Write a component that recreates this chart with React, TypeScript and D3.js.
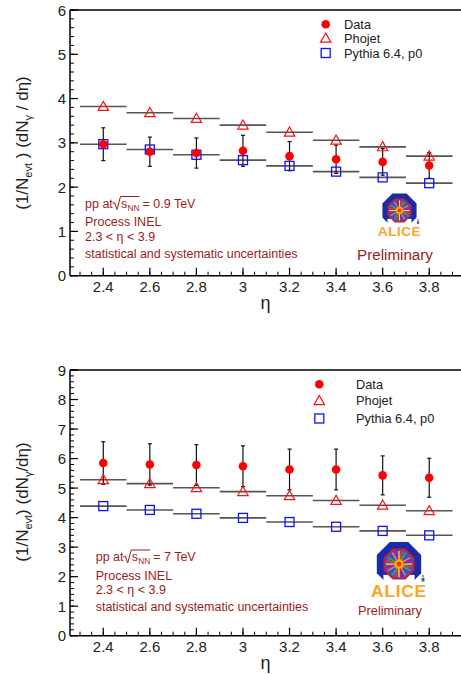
import React from 'react';
import * as d3 from 'd3';

// pseudorapidity bin centres
const etaBins = [2.4, 2.6, 2.8, 3.0, 3.2, 3.4, 3.6, 3.8];
const binHalf = 0.1;

// pp at 0.9 TeV
const data09 = [2.97, 2.80, 2.77, 2.82, 2.70, 2.63, 2.57, 2.49];
const err09 = [0.37, 0.33, 0.34, 0.35, 0.33, 0.32, 0.30, 0.29];
const phojet09 = [3.82, 3.68, 3.55, 3.40, 3.24, 3.06, 2.91, 2.70];
const pythia09 = [2.97, 2.85, 2.73, 2.61, 2.48, 2.35, 2.22, 2.09];

// pp at 7 TeV
const data7 = [5.85, 5.80, 5.78, 5.74, 5.63, 5.63, 5.43, 5.35];
const err7 = [0.72, 0.70, 0.69, 0.69, 0.69, 0.69, 0.66, 0.66];
const phojet7 = [5.28, 5.15, 5.01, 4.88, 4.74, 4.58, 4.42, 4.23];
const pythia7 = [4.39, 4.26, 4.13, 3.99, 3.85, 3.69, 3.55, 3.40];

const xTickLabels = [2.4, 2.6, 2.8, 3, 3.2, 3.4, 3.6, 3.8];
const legendLabels = ['Data', 'Phojet', 'Pythia 6.4, p0'];

const font = '"Liberation Sans", Arial, Helvetica, sans-serif';
const noteColor = '#9b1c1c';
const stepColor = '#555';

const x = d3.scaleLinear().domain([2.3, 3.9]).range([80, 452.5]);
const frameLeft = 70;
const frameRight = 470;

const Logo = ({ cx, top, w }) => {
  const s = w / 40;
  const octa = (r, cy) => {
    const pts = d3.range(8).map(i => {
      const a = Math.PI / 8 + (i * Math.PI) / 4;
      return [cx + r * Math.cos(a), cy + r * Math.sin(a)];
    });
    return 'M' + pts.map(p => p.join(',')).join('L') + 'Z';
  };
  const cy = top + 13 * s;
  const rays = d3.range(24);
  const rayColors = ['#ffde00', '#ff3b00', '#30c030', '#2050ff', '#ff9000', '#c000c0'];
  return (
    <g>
      <path d={octa(20 * s, cy)} fill="#1a2aa8" />
      <rect x={cx - 13 * s} y={cy + 9 * s} width={26 * s} height={12 * s} fill="#fff" />
      <path d={octa(14 * s, cy)} fill="#d02020" />
      <path d={octa(12.5 * s, cy)} fill="#6a3fb0" />
      <circle cx={cx} cy={cy} r={11 * s} fill="#5050c0" />
      {rays.map(i => {
        const a = (i * 2 * Math.PI) / rays.length;
        return (
          <line key={i} x1={cx} y1={cy} x2={cx + 11 * s * Math.cos(a)} y2={cy + 11 * s * Math.sin(a)}
            stroke={rayColors[i % rayColors.length]} strokeWidth={1.1 * s} />
        );
      })}
      <circle cx={cx} cy={cy} r={4 * s} fill="#ffb000" opacity={0.9} />
      <circle cx={cx} cy={cy} r={2 * s} fill="#ff3000" />
      <circle cx={cx + 20 * s} cy={cy + 10 * s} r={1.2 * s} fill="#f09020" />
      <rect x={cx + 18.8 * s} y={cy + 11.5 * s} width={2.4 * s} height={3 * s} fill="#3060d0" />
      <text x={cx} y={cy + 27 * s} textAnchor="middle" fontFamily={font} fontWeight="bold"
        fontSize={14.5 * s} fill="#ffa424" letterSpacing={0.6 * s}>ALICE</text>
    </g>
  );
};

const Panel = (props) => {
  const { yMax, yTop, yBottom, data, err, phojet, pythia, energy, cfg } = props;
  const y = d3.scaleLinear().domain([0, yMax]).range([yBottom, yTop]);
  const yMajor = d3.range(0, yMax + 0.001, 1);
  const yMinor = d3.range(0, yMax + 0.001, 0.2);
  const xMinor = d3.range(2.3, 3.9501, 0.05);

  const tri = (cx, cy) => {
    const r = 5.2;
    return `M${cx},${cy - r}L${cx + r},${cy + r * 0.75}L${cx - r},${cy + r * 0.75}Z`;
  };

  const nx = cfg.noteX;
  const x0 = nx + 28.5;
  const nb = cfg.noteY;

  return (
    <g>
      {/* frame */}
      <line x1={frameLeft} x2={frameRight} y1={yTop} y2={yTop} stroke="#000" strokeWidth={1.3} />
      <line x1={frameLeft} x2={frameLeft} y1={yTop} y2={yBottom} stroke="#000" strokeWidth={1.5} />
      <line x1={frameLeft} x2={frameRight} y1={yBottom} y2={yBottom} stroke="#000" strokeWidth={1.5} />

      {yMinor.map((v, i) => (
        <line key={'ym' + i} x1={frameLeft} x2={frameLeft + 4} y1={y(v)} y2={y(v)} stroke="#000" strokeWidth={1} />
      ))}
      {yMajor.map(v => (
        <g key={'yM' + v}>
          <line x1={frameLeft} x2={frameLeft + 8} y1={y(v)} y2={y(v)} stroke="#000" strokeWidth={1.2} />
          <text x={frameLeft - 4} y={y(v) + 5.5} textAnchor="end" fontFamily={font} fontSize={15} fill="#222">{v}</text>
        </g>
      ))}
      {xMinor.map((v, i) => (
        <line key={'xm' + i} x1={x(v)} x2={x(v)} y1={yBottom} y2={yBottom - 4} stroke="#000" strokeWidth={1} />
      ))}
      {xTickLabels.map(v => (
        <g key={'xM' + v}>
          <line x1={x(v)} x2={x(v)} y1={yBottom} y2={yBottom - 8} stroke="#000" strokeWidth={1.2} />
          <text x={x(v)} y={yBottom + 16.5} textAnchor="middle" fontFamily={font} fontSize={15} fill="#222">{v}</text>
        </g>
      ))}
      <text x={265.5} y={yBottom + 33.5} textAnchor="middle" fontFamily={font} fontSize={18} fill="#222">η</text>

      {/* y title */}
      <text transform={`translate(27.5,${cfg.titleY}) rotate(-90)`} textAnchor="middle" fontFamily={font} fontSize={17} fill="#222">
        <tspan>(1/N</tspan>
        <tspan fontSize={11} dy={4}>evt</tspan>
        <tspan dy={-4}>{cfg.spaced ? ' ) (dN' : ') (dN'}</tspan>
        <tspan fontSize={11} dy={4}>γ</tspan>
        <tspan dy={-4}>{cfg.spaced ? '  / dη)' : '/dη)'}</tspan>
      </text>

      {/* model step histograms */}
      {etaBins.map((e, i) => (
        <g key={'st' + i}>
          <line x1={x(e - binHalf)} x2={x(e + binHalf)} y1={y(phojet[i])} y2={y(phojet[i])} stroke={stepColor} strokeWidth={1.6} />
          <line x1={x(e - binHalf)} x2={x(e + binHalf)} y1={y(pythia[i])} y2={y(pythia[i])} stroke={stepColor} strokeWidth={1.6} />
        </g>
      ))}

      {/* error bars */}
      {etaBins.map((e, i) => (
        <g key={'eb' + i} stroke="#111" strokeWidth={1.2}>
          <line x1={x(e)} x2={x(e)} y1={y(data[i] - err[i])} y2={y(data[i] + err[i])} />
          <line x1={x(e) - 2} x2={x(e) + 2} y1={y(data[i] - err[i])} y2={y(data[i] - err[i])} />
          <line x1={x(e) - 2} x2={x(e) + 2} y1={y(data[i] + err[i])} y2={y(data[i] + err[i])} />
        </g>
      ))}

      {/* markers */}
      {etaBins.map((e, i) => (
        <g key={'mk' + i}>
          <path d={tri(x(e), y(phojet[i]))} fill="none" stroke="#ff1010" strokeWidth={1.2} />
          <rect x={x(e) - 4.5} y={y(pythia[i]) - 4.5} width={9} height={9} fill="none" stroke="#1010ff" strokeWidth={1.3} />
          <circle cx={x(e)} cy={y(data[i])} r={4.3} fill="#ff0000" />
        </g>
      ))}

      {/* legend */}
      {legendLabels.map((lab, i) => {
        const ly = cfg.legendY[i];
        const mx = cfg.legendMarkerX;
        return (
          <g key={'lg' + i}>
            {i === 0 && <circle cx={mx} cy={ly} r={4.3} fill="#ff0000" />}
            {i === 1 && <path d={tri(mx, ly)} fill="none" stroke="#ff1010" strokeWidth={1.2} />}
            {i === 2 && <rect x={mx - 4.5} y={ly - 4.5} width={9} height={9} fill="none" stroke="#1010ff" strokeWidth={1.3} />}
            <text x={cfg.legendTextX} y={ly + 4.5} fontFamily={font} fontSize={12.8} fill="#222">{lab}</text>
          </g>
        );
      })}

      {/* annotations */}
      <g fontFamily={font} fontSize={12.5} fill={noteColor}>
        <text x={nx} y={nb[0]}>pp at</text>
        <path d={`M${x0 - 1},${nb[0] - 4}L${x0 + 1},${nb[0] - 5}L${x0 + 3.5},${nb[0] + 2}L${x0 + 7},${nb[0] - 11}L${x0 + 26},${nb[0] - 11}`}
          fill="none" stroke={noteColor} strokeWidth={1} />
        <text x={x0 + 7.5} y={nb[0]}>s</text>
        <text x={x0 + 14} y={nb[0] + 3} fontSize={8.3}>NN</text>
        <text x={x0 + 29} y={nb[0]}>{`= ${energy} TeV`}</text>
        <text x={nx} y={nb[1]}>Process INEL</text>
        <text x={nx} y={nb[2]}>2.3 &lt; η &lt; 3.9</text>
        <text x={nx} y={nb[3]}>statistical and systematic uncertainties</text>
      </g>

      <Logo cx={cfg.logoX} top={cfg.logoTop} w={cfg.logoW} />
      <text x={cfg.prelimX} y={cfg.prelimY} fontFamily={font} fontSize={cfg.prelimSize} fill={noteColor}>Preliminary</text>
    </g>
  );
};

const topCfg = {
  titleY: 143, spaced: true,
  legendMarkerX: 325.7, legendTextX: 344, legendY: [24.3, 38.3, 53],
  noteX: 85, noteY: [207.5, 226, 241, 258],
  logoX: 399.5, logoTop: 198.5, logoW: 37,
  prelimX: 357, prelimY: 259.5, prelimSize: 15.2,
};

const bottomCfg = {
  titleY: 502, spaced: false,
  legendMarkerX: 319.3, legendTextX: 356, legendY: [384.3, 400.7, 418.5],
  noteX: 95.7, noteY: [561, 579.5, 593.5, 610.5],
  logoX: 399, logoTop: 548.5, logoW: 48,
  prelimX: 358, prelimY: 615, prelimSize: 12.8,
};

export default function App() {
  return (
    <svg width={461} height={674} style={{ position: 'absolute', left: 0, top: 0, background: '#fff' }}>
      <rect width={461} height={674} fill="#fff" />
      <Panel yMax={6} yTop={10} yBottom={275.7} data={data09} err={err09} phojet={phojet09} pythia={pythia09}
        energy="0.9" cfg={topCfg} />
      <Panel yMax={9} yTop={370} yBottom={635.7} data={data7} err={err7} phojet={phojet7} pythia={pythia7}
        energy="7" cfg={bottomCfg} />
    </svg>
  );
}
